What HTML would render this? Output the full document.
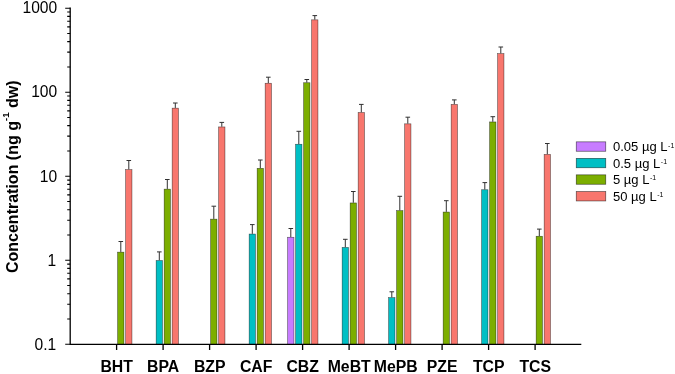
<!DOCTYPE html>
<html><head><meta charset="utf-8"><title>Chart</title><style>html,body{margin:0;padding:0;background:#fff}svg{display:block}</style></head><body>
<svg width="675" height="374" viewBox="0 0 675 374" font-family="'Liberation Sans', Arial, sans-serif">
<rect width="675" height="374" fill="#fff"/>
<path d="M120.80 251.90V241.50M118.50 241.50H123.10" stroke="#303030" stroke-width="1" fill="none"/>
<rect x="117.65" y="252.15" width="6.30" height="92.15" fill="#7CAE00" stroke="#000" stroke-opacity="0.62" stroke-width="0.6"/>
<path d="M128.80 169.40V160.50M126.50 160.50H131.10" stroke="#303030" stroke-width="1" fill="none"/>
<rect x="125.65" y="169.65" width="6.30" height="174.65" fill="#F8766D" stroke="#000" stroke-opacity="0.62" stroke-width="0.6"/>
<path d="M159.30 260.30V251.90M157.00 251.90H161.60" stroke="#303030" stroke-width="1" fill="none"/>
<rect x="156.15" y="260.55" width="6.30" height="83.75" fill="#00BFC4" stroke="#000" stroke-opacity="0.62" stroke-width="0.6"/>
<path d="M167.30 188.90V179.50M165.00 179.50H169.60" stroke="#303030" stroke-width="1" fill="none"/>
<rect x="164.15" y="189.15" width="6.30" height="155.15" fill="#7CAE00" stroke="#000" stroke-opacity="0.62" stroke-width="0.6"/>
<path d="M175.30 107.90V103.00M173.00 103.00H177.60" stroke="#303030" stroke-width="1" fill="none"/>
<rect x="172.15" y="108.15" width="6.30" height="236.15" fill="#F8766D" stroke="#000" stroke-opacity="0.62" stroke-width="0.6"/>
<path d="M213.80 218.90V206.20M211.50 206.20H216.10" stroke="#303030" stroke-width="1" fill="none"/>
<rect x="210.65" y="219.15" width="6.30" height="125.15" fill="#7CAE00" stroke="#000" stroke-opacity="0.62" stroke-width="0.6"/>
<path d="M221.80 126.70V122.40M219.50 122.40H224.10" stroke="#303030" stroke-width="1" fill="none"/>
<rect x="218.65" y="126.95" width="6.30" height="217.35" fill="#F8766D" stroke="#000" stroke-opacity="0.62" stroke-width="0.6"/>
<path d="M252.30 233.80V224.60M250.00 224.60H254.60" stroke="#303030" stroke-width="1" fill="none"/>
<rect x="249.15" y="234.05" width="6.30" height="110.25" fill="#00BFC4" stroke="#000" stroke-opacity="0.62" stroke-width="0.6"/>
<path d="M260.30 168.10V160.00M258.00 160.00H262.60" stroke="#303030" stroke-width="1" fill="none"/>
<rect x="257.15" y="168.35" width="6.30" height="175.95" fill="#7CAE00" stroke="#000" stroke-opacity="0.62" stroke-width="0.6"/>
<path d="M268.30 83.00V77.20M266.00 77.20H270.60" stroke="#303030" stroke-width="1" fill="none"/>
<rect x="265.15" y="83.25" width="6.30" height="261.05" fill="#F8766D" stroke="#000" stroke-opacity="0.62" stroke-width="0.6"/>
<path d="M290.80 237.00V228.50M288.50 228.50H293.10" stroke="#303030" stroke-width="1" fill="none"/>
<rect x="287.65" y="237.25" width="6.30" height="107.05" fill="#C77CFF" stroke="#000" stroke-opacity="0.62" stroke-width="0.6"/>
<path d="M298.80 144.00V131.30M296.50 131.30H301.10" stroke="#303030" stroke-width="1" fill="none"/>
<rect x="295.65" y="144.25" width="6.30" height="200.05" fill="#00BFC4" stroke="#000" stroke-opacity="0.62" stroke-width="0.6"/>
<path d="M306.80 82.50V79.50M304.50 79.50H309.10" stroke="#303030" stroke-width="1" fill="none"/>
<rect x="303.65" y="82.75" width="6.30" height="261.55" fill="#7CAE00" stroke="#000" stroke-opacity="0.62" stroke-width="0.6"/>
<path d="M314.80 19.60V15.60M312.50 15.60H317.10" stroke="#303030" stroke-width="1" fill="none"/>
<rect x="311.65" y="19.85" width="6.30" height="324.45" fill="#F8766D" stroke="#000" stroke-opacity="0.62" stroke-width="0.6"/>
<path d="M345.30 247.20V239.30M343.00 239.30H347.60" stroke="#303030" stroke-width="1" fill="none"/>
<rect x="342.15" y="247.45" width="6.30" height="96.85" fill="#00BFC4" stroke="#000" stroke-opacity="0.62" stroke-width="0.6"/>
<path d="M353.30 202.70V191.50M351.00 191.50H355.60" stroke="#303030" stroke-width="1" fill="none"/>
<rect x="350.15" y="202.95" width="6.30" height="141.35" fill="#7CAE00" stroke="#000" stroke-opacity="0.62" stroke-width="0.6"/>
<path d="M361.30 112.30V104.40M359.00 104.40H363.60" stroke="#303030" stroke-width="1" fill="none"/>
<rect x="358.15" y="112.55" width="6.30" height="231.75" fill="#F8766D" stroke="#000" stroke-opacity="0.62" stroke-width="0.6"/>
<path d="M391.80 297.40V291.80M389.50 291.80H394.10" stroke="#303030" stroke-width="1" fill="none"/>
<rect x="388.65" y="297.65" width="6.30" height="46.65" fill="#00BFC4" stroke="#000" stroke-opacity="0.62" stroke-width="0.6"/>
<path d="M399.80 210.40V196.30M397.50 196.30H402.10" stroke="#303030" stroke-width="1" fill="none"/>
<rect x="396.65" y="210.65" width="6.30" height="133.65" fill="#7CAE00" stroke="#000" stroke-opacity="0.62" stroke-width="0.6"/>
<path d="M407.80 123.60V117.20M405.50 117.20H410.10" stroke="#303030" stroke-width="1" fill="none"/>
<rect x="404.65" y="123.85" width="6.30" height="220.45" fill="#F8766D" stroke="#000" stroke-opacity="0.62" stroke-width="0.6"/>
<path d="M446.30 211.80V200.70M444.00 200.70H448.60" stroke="#303030" stroke-width="1" fill="none"/>
<rect x="443.15" y="212.05" width="6.30" height="132.25" fill="#7CAE00" stroke="#000" stroke-opacity="0.62" stroke-width="0.6"/>
<path d="M454.30 104.20V99.90M452.00 99.90H456.60" stroke="#303030" stroke-width="1" fill="none"/>
<rect x="451.15" y="104.45" width="6.30" height="239.85" fill="#F8766D" stroke="#000" stroke-opacity="0.62" stroke-width="0.6"/>
<path d="M484.80 189.50V182.60M482.50 182.60H487.10" stroke="#303030" stroke-width="1" fill="none"/>
<rect x="481.65" y="189.75" width="6.30" height="154.55" fill="#00BFC4" stroke="#000" stroke-opacity="0.62" stroke-width="0.6"/>
<path d="M492.80 121.70V116.70M490.50 116.70H495.10" stroke="#303030" stroke-width="1" fill="none"/>
<rect x="489.65" y="121.95" width="6.30" height="222.35" fill="#7CAE00" stroke="#000" stroke-opacity="0.62" stroke-width="0.6"/>
<path d="M500.80 53.40V47.00M498.50 47.00H503.10" stroke="#303030" stroke-width="1" fill="none"/>
<rect x="497.65" y="53.65" width="6.30" height="290.65" fill="#F8766D" stroke="#000" stroke-opacity="0.62" stroke-width="0.6"/>
<path d="M539.30 236.00V229.10M537.00 229.10H541.60" stroke="#303030" stroke-width="1" fill="none"/>
<rect x="536.15" y="236.25" width="6.30" height="108.05" fill="#7CAE00" stroke="#000" stroke-opacity="0.62" stroke-width="0.6"/>
<path d="M547.30 154.20V143.50M545.00 143.50H549.60" stroke="#303030" stroke-width="1" fill="none"/>
<rect x="544.15" y="154.45" width="6.30" height="189.85" fill="#F8766D" stroke="#000" stroke-opacity="0.62" stroke-width="0.6"/>
<path d="M70.2 7.549999999999999V344.3H581.3" stroke="#000" stroke-width="1.3" fill="none" stroke-linecap="butt" stroke-linejoin="miter"/>
<path d="M65.2 344.30H70.2M67.2 319.01H70.2M67.2 304.21H70.2M67.2 293.71H70.2M67.2 285.57H70.2M67.2 278.92H70.2M67.2 273.29H70.2M67.2 268.42H70.2M67.2 264.12H70.2M65.2 260.27H70.2M67.2 234.98H70.2M67.2 220.18H70.2M67.2 209.69H70.2M67.2 201.54H70.2M67.2 194.89H70.2M67.2 189.27H70.2M67.2 184.39H70.2M67.2 180.09H70.2M65.2 176.25H70.2M67.2 150.96H70.2M67.2 136.16H70.2M67.2 125.66H70.2M67.2 117.52H70.2M67.2 110.87H70.2M67.2 105.24H70.2M67.2 100.37H70.2M67.2 96.07H70.2M65.2 92.22H70.2M67.2 66.93H70.2M67.2 52.13H70.2M67.2 41.64H70.2M67.2 33.49H70.2M67.2 26.84H70.2M67.2 21.22H70.2M67.2 16.34H70.2M67.2 12.04H70.2M65.2 8.20H70.2" stroke="#000" stroke-width="1.1" fill="none"/>
<path d="M116.60 344.3v5.6M163.10 344.3v5.6M209.60 344.3v5.6M256.10 344.3v5.6M302.60 344.3v5.6M349.10 344.3v5.6M395.60 344.3v5.6M442.10 344.3v5.6M488.60 344.3v5.6M535.10 344.3v5.6" stroke="#000" stroke-width="1.3" fill="none"/>
<text x="56.3" y="349.55" font-size="15.6" text-anchor="end" fill="#000">0.1</text>
<text x="56.3" y="265.52" font-size="15.6" text-anchor="end" fill="#000">1</text>
<text x="57.2" y="181.50" font-size="15.6" text-anchor="end" fill="#000">10</text>
<text x="57.2" y="97.47" font-size="15.6" text-anchor="end" fill="#000">100</text>
<text x="57.2" y="13.45" font-size="15.6" text-anchor="end" fill="#000">1000</text>
<text x="116.70" y="372.1" font-size="15.8" font-weight="bold" text-anchor="middle" fill="#000">BHT</text>
<text x="163.20" y="372.1" font-size="15.8" font-weight="bold" text-anchor="middle" fill="#000">BPA</text>
<text x="209.70" y="372.1" font-size="15.8" font-weight="bold" text-anchor="middle" fill="#000">BZP</text>
<text x="256.20" y="372.1" font-size="15.8" font-weight="bold" text-anchor="middle" fill="#000">CAF</text>
<text x="302.70" y="372.1" font-size="15.8" font-weight="bold" text-anchor="middle" fill="#000">CBZ</text>
<text x="349.20" y="372.1" font-size="15.8" font-weight="bold" text-anchor="middle" fill="#000">MeBT</text>
<text x="395.70" y="372.1" font-size="15.8" font-weight="bold" text-anchor="middle" fill="#000">MePB</text>
<text x="442.20" y="372.1" font-size="15.8" font-weight="bold" text-anchor="middle" fill="#000">PZE</text>
<text x="488.70" y="372.1" font-size="15.8" font-weight="bold" text-anchor="middle" fill="#000">TCP</text>
<text x="535.20" y="372.1" font-size="15.8" font-weight="bold" text-anchor="middle" fill="#000">TCS</text>
<text transform="translate(17.6 176.7) rotate(-90)" font-size="16" font-weight="bold" text-anchor="middle" fill="#000">Concentration (ng g<tspan font-size="9.8" dy="-8.4">-1</tspan><tspan dy="8.4"> dw)</tspan></text>
<rect x="576.25" y="141.85" width="29.5" height="9.4" fill="#C77CFF" stroke="#000" stroke-opacity="0.62" stroke-width="0.7"/>
<text transform="translate(613.0 151.4) scale(1.06 1)" font-size="12.3" fill="#000">0.05 µg L<tspan font-size="6.6" dy="-3.9" dx="0.5">-1</tspan></text>
<rect x="576.25" y="158.35" width="29.5" height="9.4" fill="#00BFC4" stroke="#000" stroke-opacity="0.62" stroke-width="0.7"/>
<text transform="translate(613.0 167.6) scale(1.06 1)" font-size="12.3" fill="#000">0.5 µg L<tspan font-size="6.6" dy="-3.9" dx="0.5">-1</tspan></text>
<rect x="576.25" y="174.85" width="29.5" height="9.4" fill="#7CAE00" stroke="#000" stroke-opacity="0.62" stroke-width="0.7"/>
<text transform="translate(613.0 184.0) scale(1.06 1)" font-size="12.3" fill="#000">5 µg L<tspan font-size="6.6" dy="-3.9" dx="0.5">-1</tspan></text>
<rect x="576.25" y="191.55" width="29.5" height="9.4" fill="#F8766D" stroke="#000" stroke-opacity="0.62" stroke-width="0.7"/>
<text transform="translate(613.0 200.9) scale(1.06 1)" font-size="12.3" fill="#000">50 µg L<tspan font-size="6.6" dy="-3.9" dx="0.5">-1</tspan></text>
</svg>
</body></html>
